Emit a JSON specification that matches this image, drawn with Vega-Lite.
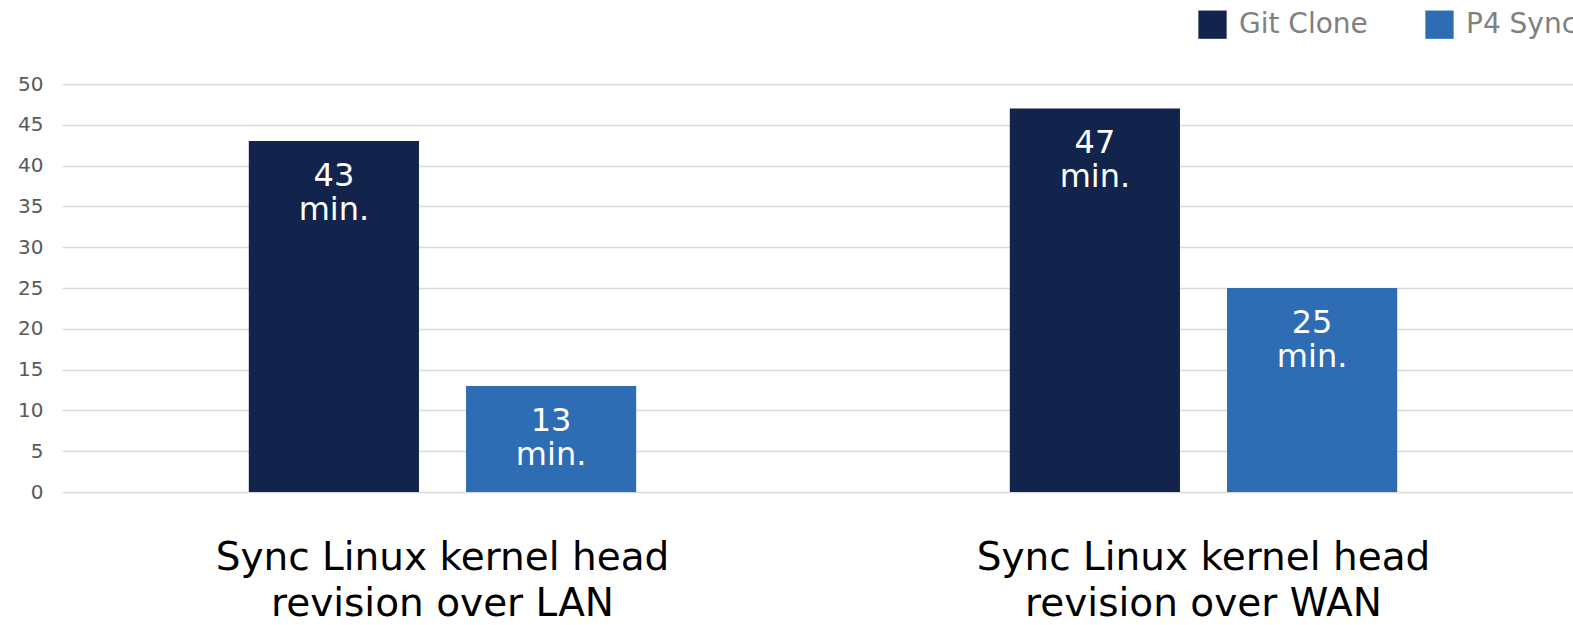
{
  "$schema": "https://vega.github.io/schema/vega-lite/v6.json",
  "autosize": {"type": "none"},
  "padding": {"left": 62, "top": 84, "right": 0, "bottom": 133},
  "width": 1522,
  "height": 408,
  "background": "white",
  "config": {
    "font": "DejaVu Sans",
    "view": {"stroke": null}
  },
  "data": {
    "values": [
      {"task": "Sync Linux kernel head|revision over LAN", "series": "Git Clone", "minutes": 43},
      {"task": "Sync Linux kernel head|revision over LAN", "series": "P4 Sync", "minutes": 13},
      {"task": "Sync Linux kernel head|revision over WAN", "series": "Git Clone", "minutes": 47},
      {"task": "Sync Linux kernel head|revision over WAN", "series": "P4 Sync", "minutes": 25}
    ]
  },
  "encoding": {
    "x": {
      "field": "task",
      "type": "nominal",
      "sort": null,
      "scale": {"paddingInner": 0, "paddingOuter": 0, "round": false},
      "axis": {
        "title": null,
        "domain": false,
        "ticks": false,
        "labelAngle": 0,
        "labelExpr": "split(datum.label, '|')",
        "labelFontSize": 39,
        "labelColor": "#000000",
        "labelBaseline": "alphabetic",
        "labelPadding": 77,
        "labelLineHeight": 46,
        "labelLimit": 0
      }
    },
    "xOffset": {
      "field": "series",
      "type": "nominal",
      "sort": ["Git Clone", "P4 Sync"],
      "scale": {"paddingInner": 0.2166, "paddingOuter": 0.86, "round": false}
    },
    "y": {
      "field": "minutes",
      "type": "quantitative",
      "scale": {"domain": [0, 50]},
      "axis": {
        "title": null,
        "values": [0, 5, 10, 15, 20, 25, 30, 35, 40, 45, 50],
        "domain": false,
        "ticks": false,
        "labelFontSize": 20,
        "labelColor": "#595959",
        "labelPadding": 19,
        "gridColor": "#d9d9d9",
        "gridWidth": 1.5
      }
    }
  },
  "layer": [
    {
      "mark": {"type": "bar"},
      "encoding": {
        "color": {
          "field": "series",
          "type": "nominal",
          "sort": ["Git Clone", "P4 Sync"],
          "scale": {"domain": ["Git Clone", "P4 Sync"], "range": ["#12234c", "#2e6db4"]},
          "legend": {
            "title": null,
            "orient": "none",
            "direction": "horizontal",
            "legendX": 1136,
            "legendY": -74,
            "symbolType": "square",
            "symbolSize": 800,
            "symbolStrokeWidth": 0,
            "labelFontSize": 28,
            "labelColor": "#808080",
            "labelOffset": 12,
            "columnPadding": 57,
            "padding": 0
          }
        }
      }
    },
    {
      "mark": {"type": "text", "color": "white", "fontSize": 32, "baseline": "alphabetic", "dy": 45},
      "encoding": {"text": {"field": "minutes", "type": "quantitative"}}
    },
    {
      "mark": {"type": "text", "color": "white", "fontSize": 32, "baseline": "alphabetic", "dy": 79},
      "encoding": {"text": {"value": "min."}}
    }
  ]
}
